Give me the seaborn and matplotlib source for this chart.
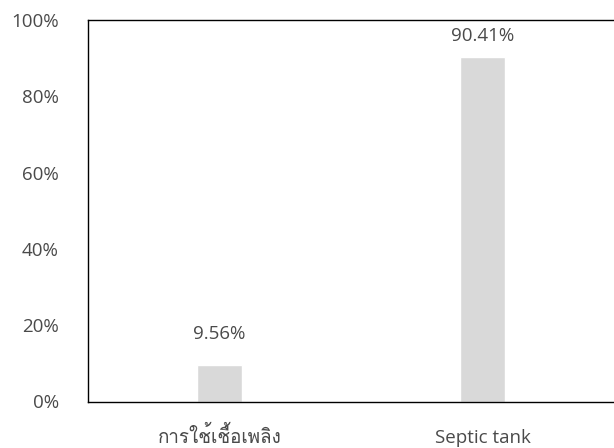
import matplotlib
matplotlib.use("Agg")
import matplotlib.pyplot as plt
import seaborn as sns
import pandas as pd
from matplotlib import font_manager
from matplotlib.ticker import PercentFormatter
from fontTools.ttLib import TTFont

# Data
categories = ["การใช้เชื้อเพลิง", "Septic tank"]
shares = [9.56, 90.41]
bar_labels = ["9.56%", "90.41%"]
label_offsets = [16, 8]  # points above bar top, as placed in the original


def find_thai_font():
    # look for any installed family that has Thai glyphs
    for f in font_manager.fontManager.ttflist:
        try:
            cmap = TTFont(f.fname, fontNumber=0, lazy=True).getBestCmap()
            if 0x0E01 in cmap and 0x0E49 in cmap:
                return f.name
        except Exception:
            pass
    return None


sns.set_theme(style="white")
thai = find_thai_font()
families = ["Open Sans"]
if thai:
    families.append(thai)
families.append("DejaVu Sans")
plt.rcParams["font.family"] = families

text_color = "#4a4a4a"
fs = 13.5

df = pd.DataFrame({"category": categories, "share": shares})

fig = plt.figure(figsize=(6.14, 4.48), dpi=100)
ax = fig.add_axes([88 / 614, 1 - 401.5 / 448, 1 - 88 / 614, (401.5 - 20) / 448])

sns.barplot(data=df, x="category", y="share", color="#d9d9d9", width=0.17,
            saturation=1, ax=ax)

for i, (val, lab, off) in enumerate(zip(shares, bar_labels, label_offsets)):
    ax.annotate(lab, xy=(i, val), xytext=(0, off), textcoords="offset points",
                ha="center", va="bottom", fontsize=fs, color=text_color)

ax.set_ylim(0, 100)
ax.set_yticks([0, 20, 40, 60, 80, 100])
ax.yaxis.set_major_formatter(PercentFormatter(decimals=0))
ax.set_xlim(-0.5, 1.5)
ax.set_xlabel("")
ax.set_ylabel("")
ax.tick_params(axis="y", length=0, pad=21, labelsize=fs, colors=text_color)
ax.tick_params(axis="x", length=0, pad=30, labelsize=fs, colors=text_color)
# put both category labels on the same baseline
plt.setp(ax.get_xticklabels(), va="baseline")

for side in ["left", "top", "bottom"]:
    ax.spines[side].set_color("black")
    ax.spines[side].set_linewidth(1.0)
ax.spines["right"].set_visible(False)

fig.savefig("out.png", dpi=100)
